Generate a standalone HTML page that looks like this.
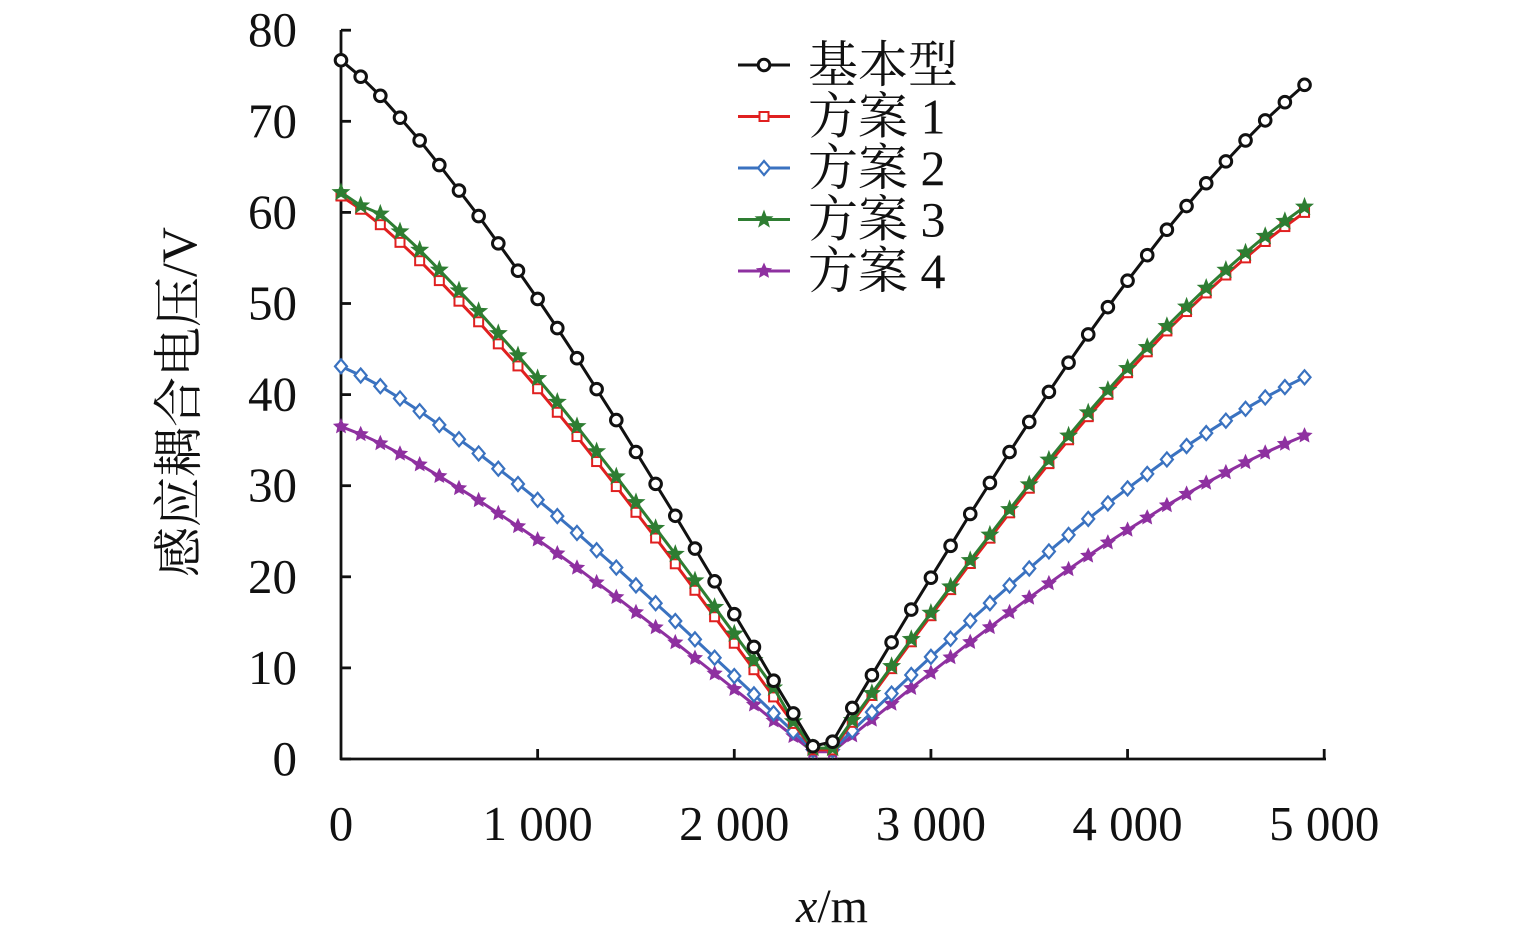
<!DOCTYPE html>
<html><head><meta charset="utf-8"><style>
body{margin:0;background:#fff}
svg text{font-family:"Liberation Serif","Noto Serif CJK SC",serif;fill:#111}
</style></head><body>
<svg id="s" width="1535" height="939" xmlns="http://www.w3.org/2000/svg">
<g stroke="#111" stroke-width="2.8" fill="none">
<line x1="341" y1="30" x2="341" y2="760"/>
<line x1="340" y1="759" x2="1326" y2="759"/>
</g>
<g id="ticks" stroke="#111" stroke-width="2.8"></g>
<g font-size="49" text-anchor="end" id="yl"></g>
<g font-size="49" text-anchor="middle" id="xl"></g>
<text x="832" y="922" font-size="48" text-anchor="middle"><tspan font-style="italic">x</tspan>/m</text>
<text transform="translate(196,402) rotate(-90)" font-size="50" text-anchor="middle">感应耦合电压/V</text>
<g id="series"></g>
<g id="legend" font-size="50"></g>
</svg>
<script>
const NS="http://www.w3.org/2000/svg";
function el(p,t,a,txt){const e=document.createElementNS(NS,t);for(const k in a)e.setAttribute(k,a[k]);if(txt!=null)e.textContent=txt;document.getElementById(p).appendChild(e);return e;}
const X=v=>341+v*0.19664, Y=v=>759-v*9.11;
for(let i=0;i<=8;i++){el('ticks','line',{x1:341,x2:351,y1:Y(i*10),y2:Y(i*10)});el('yl','text',{x:297,y:Y(i*10)+16},String(i*10));}
const xl=["0","1 000","2 000","3 000","4 000","5 000"];
for(let i=0;i<=5;i++){if(i>0)el('ticks','line',{x1:X(i*1000),x2:X(i*1000),y1:759,y2:749});el('xl','text',{x:X(i*1000),y:840},xl[i]);}
const B=[76.7,74.9,72.8,70.4,67.9,65.2,62.4,59.6,56.6,53.6,50.5,47.3,44.0,40.6,37.2,33.7,30.2,26.7,23.1,19.5,15.9,12.3,8.6,5.0,1.4,1.9,5.6,9.2,12.8,16.4,19.9,23.4,26.9,30.3,33.7,37.0,40.3,43.5,46.6,49.6,52.5,55.3,58.1,60.7,63.2,65.6,67.9,70.1,72.1,74.0];
function scaled(s0,s1,m){return B.map((v,i)=>{if(i<24)return m+(v-1.4)*(s0-m)/(76.7-1.4);if(i==24)return m;return m+(v-1.9)*(s1-m)/(74.0-1.9)*(i==25?0.85:1);});}
function star(cx,cy,r,ri){let p=[];for(let k=0;k<10;k++){const a=-Math.PI/2+k*Math.PI/5,rr=k%2?ri:r;p.push((cx+rr*Math.cos(a)).toFixed(1)+","+(cy+rr*Math.sin(a)).toFixed(1));}return p.join(" ");}
function mk(g,type,c,x,y){
 if(type=='c')el(g,'circle',{cx:x,cy:y,r:5.8,fill:'#fff',stroke:c,'stroke-width':3});
 else if(type=='s')el(g,'rect',{x:x-4.5,y:y-4.5,width:9,height:9,fill:'#fff',stroke:c,'stroke-width':2});
 else if(type=='d')el(g,'polygon',{points:`${x},${y-7} ${x+6},${y} ${x},${y+7} ${x-6},${y}`,fill:'#fff',stroke:c,'stroke-width':2.2});
 else if(type=='g')el(g,'polygon',{points:star(x,y,10,4.2),fill:c});
 else if(type=='p')el(g,'polygon',{points:star(x,y,8.5,4),fill:c});
}
const S=[
 {d:scaled(36.5,35.5,0.8),c:'#8e30a0',t:'p'},
 {d:scaled(43.1,41.9,1.0),c:'#3a72c0',t:'d'},
 {d:scaled(61.8,60.0,1.0),c:'#e02020',t:'s'},
 {d:scaled(62.2,60.6,1.2).map((v,i)=>i>1&&i<23?v+0.8:v),c:'#2e7d32',t:'g'},
 {d:B,c:'#111',t:'c'}];
S.forEach((s,k)=>{const id='g'+k;el('series','g',{id:id});
 el(id,'polyline',{points:s.d.map((v,i)=>X(i*100).toFixed(1)+","+Y(v).toFixed(1)).join(" "),fill:'none',stroke:s.c,'stroke-width':3});
 s.d.forEach((v,i)=>mk(id,s.t,s.c,X(i*100),Y(v)));});
const L=[['基本型','#111','c'],['方案 1','#e02020','s'],['方案 2','#3a72c0','d'],['方案 3','#2e7d32','g'],['方案 4','#8e30a0','p']];
L.forEach((l,i)=>{const y=65+i*51.5;el('legend','line',{x1:738,x2:790,y1:y,y2:y,stroke:l[1],'stroke-width':3});mk('legend',l[2],l[1],764,y);el('legend','text',{x:808,y:y+17},l[0]);});
</script>
</body></html>
